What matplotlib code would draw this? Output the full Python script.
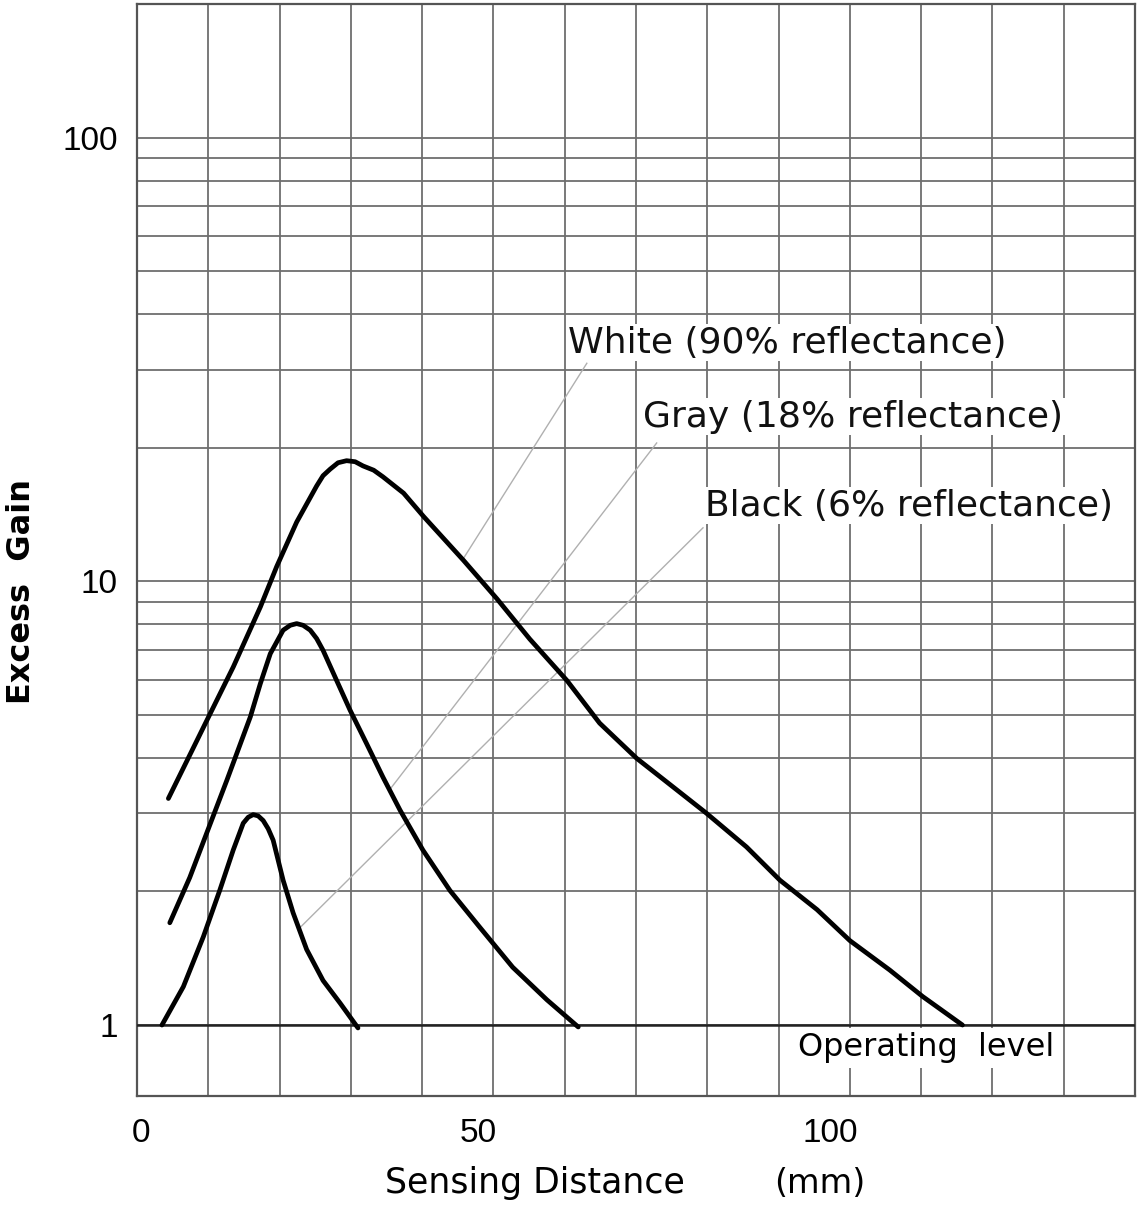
import numpy as np
import matplotlib.pyplot as plt
from matplotlib.transforms import ScaledTranslation

# curves: sensing distance (mm) vs excess gain
white_x = [4.4, 9.8, 13.5, 17.3, 19.6, 22.4, 25.2, 26.1, 27.1, 28.2, 29.4, 30.6, 31.7,
           33.2, 34.5, 37.4, 40.2, 45.8, 50.5, 55.1, 60.3, 64.9, 70.1, 75.2,
           79.9, 85.5, 90.2, 95.4, 100.0, 105.6, 110.2, 115.8]
white_y = [3.24, 4.86, 6.41, 8.75, 10.8, 13.6, 16.4, 17.3, 17.9, 18.5, 18.7, 18.6, 18.2,
           17.8, 17.2, 15.8, 14.0, 11.15, 9.13, 7.41, 5.98, 4.79, 3.99, 3.44,
           3.00, 2.52, 2.12, 1.82, 1.55, 1.33, 1.16, 1.0]

gray_x = [4.6, 7.4, 12.6, 15.9, 17.3, 18.7, 20.5, 21.5, 22.4, 23.3, 24.3, 25.2,
          26.1, 28.0, 29.9, 32.2, 34.5, 36.9, 40.1, 43.9, 48.1, 52.7, 57.5, 61.9]
gray_y = [1.70, 2.15, 3.56, 4.95, 5.88, 6.87, 7.76, 7.96, 8.03, 7.96, 7.76, 7.43,
          6.99, 5.98, 5.12, 4.31, 3.62, 3.05, 2.48, 2.01, 1.66, 1.35, 1.14, 0.99]

black_x = [3.5, 6.5, 9.3, 11.6, 13.5, 14.9, 15.6, 16.3, 17.0, 17.7, 18.4, 19.1, 20.5,
           21.9, 23.8, 26.1, 28.5, 31.0]
black_y = [1.0, 1.22, 1.58, 2.01, 2.48, 2.85, 2.94, 2.98, 2.96, 2.89, 2.77, 2.61, 2.12,
           1.79, 1.48, 1.26, 1.12, 0.985]

labels = ['White (90% reflectance)', 'Gray (18% reflectance)', 'Black (6% reflectance)']
label_pos = [(60.4, 34.5), (71.0, 23.5), (79.7, 14.8)]
# leader lines: (label end, curve end)
leaders = [((63.1, 31.0), (45.7, 11.2)),
           ((72.9, 20.5), (35.5, 3.40)),
           ((79.4, 13.2), (22.9, 1.66))]

xticks = [0, 50, 100]
yticks = [1, 10, 100]
operating_level = 1

fig = plt.figure(figsize=(11.4, 12.23), dpi=100)
ax = fig.add_axes([137/1140, 1 - 1096/1223, (1135 - 137)/1140, (1096 - 4)/1223])

ax.set_xlim(0, 140)
ax.set_yscale('log')
ax.set_ylim(0.692, 200)

# grid
ax.set_xticks(xticks)
ax.set_xticks(np.arange(10, 140, 10), minor=True)
ax.set_yticks(yticks)
ax.set_yticks([2, 3, 4, 5, 6, 7, 8, 9, 20, 30, 40, 50, 60, 70, 80, 90], minor=True)
ax.grid(which='both', color='#6e6e6e', lw=1.3)
ax.set_axisbelow(True)
ax.tick_params(which='both', length=0)
ax.set_yticklabels([str(v) for v in yticks], fontsize=24, family='Liberation Sans')
ax.set_xticklabels([str(v) for v in xticks], fontsize=24, family='Liberation Sans')
ax.tick_params(axis='y', pad=14)
ax.tick_params(axis='x', pad=16)
for lab, dx in zip(ax.get_xticklabels(), [4, -15, -20]):
    lab.set_transform(lab.get_transform() + ScaledTranslation(dx / 100, 0, fig.dpi_scale_trans))

for sp in ax.spines.values():
    sp.set_color('#555555')
    sp.set_linewidth(1.6)

# leaders
for (p1, p2) in leaders:
    ax.plot([p1[0], p2[0]], [p1[1], p2[1]], color='#b0b0b0', lw=1.0, zorder=2)

ax.axhline(operating_level, color='#222222', lw=1.8, zorder=3)

for xs, ys in [(white_x, white_y), (gray_x, gray_y), (black_x, black_y)]:
    ax.plot(xs, ys, color='black', lw=3.4, solid_capstyle='round',
            solid_joinstyle='round', zorder=4)

for txt, (lx, ly) in zip(labels, label_pos):
    ax.text(lx, ly, txt, fontsize=26, family='DejaVu Sans', color='#111111',
            va='center', ha='left', zorder=5,
            bbox=dict(facecolor='white', edgecolor='none', pad=1))

ax.text(92.7, 0.85, 'Operating  level', fontsize=23, family='DejaVu Sans',
        va='baseline', ha='left', zorder=5,
        bbox=dict(facecolor='white', edgecolor='none', pad=3))

fig.text(535/1140, 1 - 1193/1223, 'Sensing Distance', fontsize=25,
         family='DejaVu Sans', ha='center', va='baseline')
fig.text(820/1140, 1 - 1193/1223, '(mm)', fontsize=24,
         family='DejaVu Sans', ha='center', va='baseline')
fig.text(22/1140, 1 - 591/1223, 'Excess  Gain', fontsize=23, fontweight='bold',
         family='DejaVu Sans', ha='center', va='center', rotation=90)

fig.savefig('out.png', dpi=100)
